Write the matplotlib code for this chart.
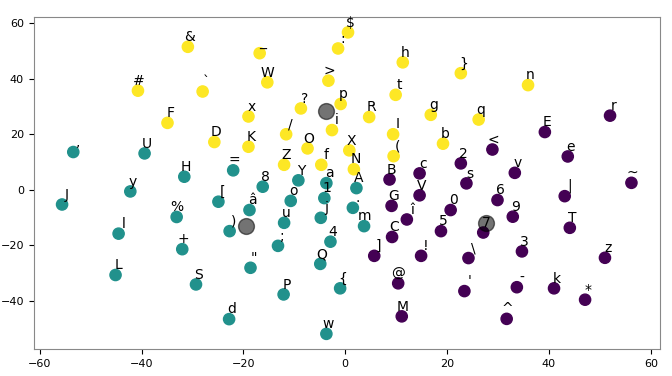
import matplotlib
matplotlib.use("Agg")
import matplotlib.pyplot as plt

# ===================== 資料 =====================
# cluster 2 (yellow)
chars_2 = ["&", "_", ":", "$", "#", "`", "W", ">", "h", "}", "n", "t", "F", "x", "?", "p",
           "i", "R", "g", "q", "I", "D", "K", "/", "O", "X", "b", "(", "Z", "f", "N"]
x_2 = [-30.9, -16.8, -1.4, 0.55, -40.7, -28.0, -15.3, -3.3, 11.3, 22.7, 35.9, 9.9, -34.9, -19.0, -8.7, -0.9,
       -2.6, 4.7, 16.8, 26.2, 9.4, -25.7, -19.0, -11.6, -7.4, 0.8, 19.2, 9.5, -12.0, -4.7, 1.7]
y_2 = [51.5, 49.2, 50.9, 56.7, 35.7, 35.4, 38.7, 39.3, 45.9, 42.0, 37.7, 34.2, 24.1, 26.4, 29.3, 30.9,
       21.5, 26.2, 27.0, 25.3, 20.0, 17.2, 15.5, 20.0, 14.9, 14.2, 16.6, 12.1, 9.0, 9.0, 7.4]

# cluster 1 (teal)
chars_1 = [",", "U", "H", "=", "8", "Y", "a", "A", "J", "y", "[", "â", "o", "1", ".", "%",
           "l", ")", "u", "j", "m", "+", ";", "4", '"', "Q", "L", "S", "P", "{", "d", "w"]
x_1 = [-53.4, -39.4, -31.6, -22.0, -16.2, -9.2, -3.7, 2.2, -55.6, -42.2, -24.9, -18.8, -10.7, -4.1, 1.5, -33.1,
       -44.5, -22.7, -12.0, -4.8, 3.7, -32.0, -13.2, -2.9, -18.6, -4.9, -45.1, -29.3, -12.1, -1.0, -22.8, -3.7]
y_1 = [13.6, 13.1, 4.7, 7.0, 1.1, 3.4, 2.4, 0.6, -5.3, -0.6, -4.3, -7.3, -4.0, -3.0, -6.5, -9.8,
       -15.8, -14.9, -11.9, -10.1, -13.1, -21.4, -20.2, -18.7, -28.1, -26.7, -30.7, -34.1, -37.7, -35.5, -46.6, -51.9]

# cluster 0 (purple)
chars_0 = ["r", "E", "<", "e", "2", "c", "v", "~", "B", "s", "V", "G", "6", "|", "0", "î", "9",
           "T", "5", "7", "C", "]", "!", "\\", "3", "z", "@", "'", "-", "k", "*", "M", "^"]
x_0 = [52.0, 39.2, 28.9, 43.7, 22.7, 14.6, 33.3, 56.2, 8.7, 23.8, 14.6, 9.1, 29.9, 43.1, 20.7, 12.1, 32.9,
       44.1, 18.8, 27.1, 9.2, 5.7, 14.9, 24.2, 34.7, 51.0, 10.4, 23.4, 33.7, 41.0, 47.1, 11.1, 31.7]
y_0 = [26.7, 20.8, 14.5, 12.0, 9.5, 5.9, 6.1, 2.5, 3.7, 2.3, -2.0, -5.8, -3.7, -2.3, -7.3, -10.7, -9.7,
       -13.7, -14.9, -15.4, -17.0, -23.8, -23.8, -24.6, -22.2, -24.5, -33.7, -36.5, -35.1, -35.5, -39.6, -45.6, -46.5]

# 群心
center_x = [-3.7, -19.5, 27.7]
center_y = [28.5, -13.1, -11.8]

# ===================== 製圖 =====================
chars = chars_0 + chars_1 + chars_2
xs = x_0 + x_1 + x_2
ys = y_0 + y_1 + y_2
group = [0] * len(chars_0) + [1] * len(chars_1) + [2] * len(chars_2)

fig = plt.figure(figsize=(6.72, 3.76), dpi=100)
ax = fig.add_subplot(111)
fig.subplots_adjust(left=0.05, right=0.982, top=0.954, bottom=0.072)

ax.scatter(xs, ys, c=group, s=65, cmap="viridis")
ax.scatter(center_x, center_y, c="black", s=130, alpha=0.55)

for label, x, y in zip(chars, xs, ys):
    ax.annotate(label, xy=(x, y), xytext=(5, 2), textcoords="offset points",
                ha="right", va="bottom", fontsize=10)

ax.tick_params(labelsize=8)
for s in ax.spines.values():
    s.set_color("#888888")

fig.savefig("out.png", dpi=100)
